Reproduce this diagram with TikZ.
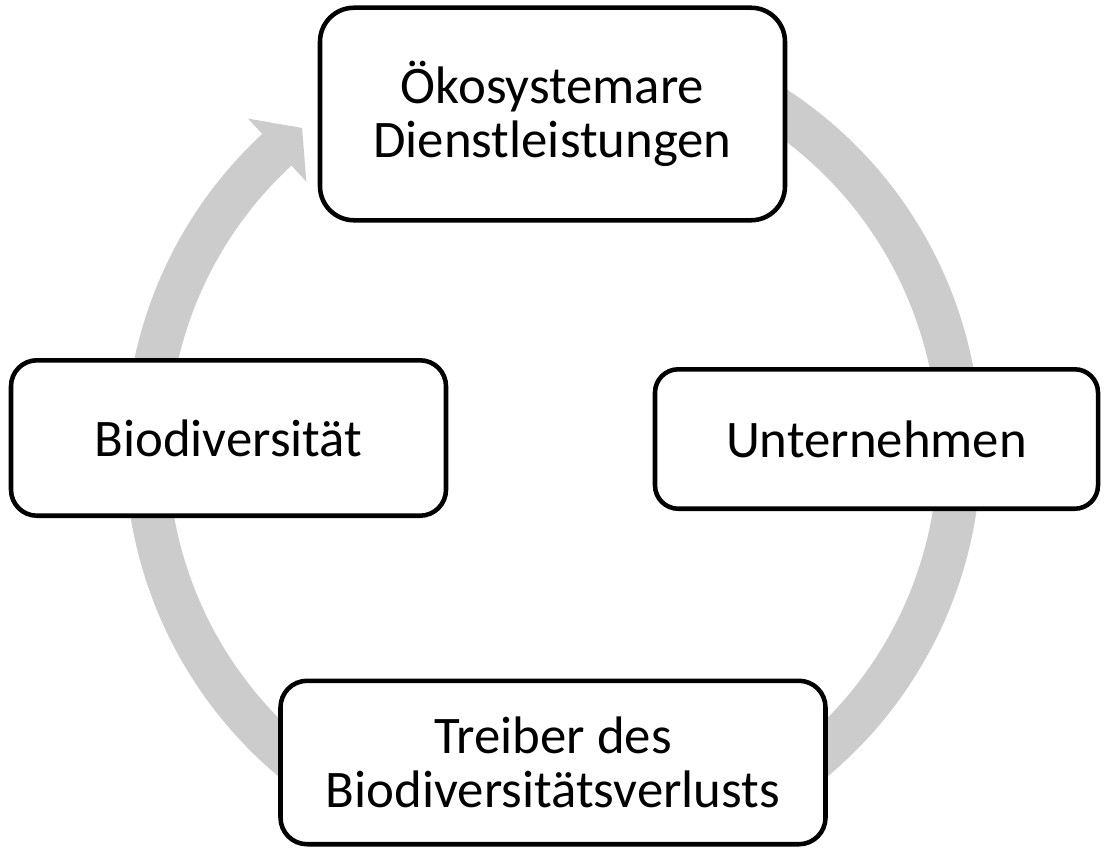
\documentclass[tikz,border=0pt]{standalone}
\usepackage{fontspec}
\setmainfont{Carlito}
\begin{document}
\begin{tikzpicture}[x=0.75pt,y=-0.75pt,
  box/.style={draw=black, line width=3.4pt, fill=white, align=center, inner sep=0pt,
    font=\fontsize{39.6}{40}\selectfont, text=black},
  arrowgray/.style={fill=black!20}]
\useasboundingbox (0,0) rectangle (1105,849);
\coordinate (C) at (553,448);
% circular arrow
\begin{scope}
\clip (0,0) rectangle (1105,845);
\fill[arrowgray] ([shift={(60:321pt)}]C) arc[start angle=60, end angle=-227.2, radius=321pt]
  -- ([shift={(-227.2:336.75pt)}]C)
  -- ([shift={(-231.9:305pt)}]C)
  -- ([shift={(-227.2:272.25pt)}]C)
  -- ([shift={(-227.2:288.75pt)}]C)
  arc[start angle=-227.2, end angle=60, radius=288.75pt] -- cycle;
\end{scope}
% boxes
\node[box, rounded corners=25.5pt, minimum width=348.75pt, minimum height=159.4pt] (oeko) at (552.5,114) {Ökosystemare\\Dienstleistungen};
\node[box, rounded corners=19.5pt, minimum width=326.25pt, minimum height=116.6pt] (bio) at (228.5,438) {Biodiversität};
\node[box, rounded corners=17.5pt, minimum width=332.25pt, minimum height=104.6pt] (unt) at (876.5,439) {Unternehmen};
\node[box, rounded corners=20pt, minimum width=408.75pt, minimum height=122.6pt] (treib) at (553,762.5) {Treiber des\\Biodiversitätsverlusts};
\end{tikzpicture}
\end{document}
